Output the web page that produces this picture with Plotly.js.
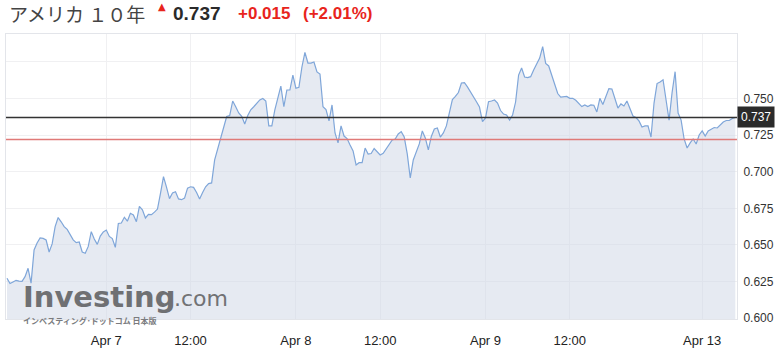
<!DOCTYPE html>
<html>
<head>
<meta charset="utf-8">
<script src="https://cdn.plot.ly/plotly-3.0.1.min.js"></script>
<style>html,body{margin:0;padding:0;background:#fff;}#chart{width:783px;height:353px;}</style>
</head>
<body>
<div id="chart"></div>
<script>
// Yield series (index-based trading time)
const yields = [
0.6273,0.6237,0.6248,0.6259,0.6253,0.6252,0.6284,0.6341,0.6240,0.6466,
0.6514,0.6548,0.6545,0.6534,0.6452,0.6507,0.6625,0.6687,0.6658,0.6625,
0.6606,0.6575,0.6535,0.6516,0.6520,0.6452,0.6443,0.6490,0.6591,0.6541,
0.6504,0.6561,0.6589,0.6602,0.6558,0.6544,0.6484,0.6647,0.6650,0.6689,
0.6662,0.6716,0.6705,0.6659,0.6763,0.6740,0.6684,0.6708,0.6707,0.6724,
0.6745,0.6852,0.6966,0.6895,0.6816,0.6854,0.6863,0.6814,0.6809,0.6820,
0.6888,0.6897,0.6893,0.6858,0.6814,0.6858,0.6897,0.6919,0.6923,0.7080,
0.7155,0.7217,0.7298,0.7376,0.7383,0.7482,0.7443,0.7400,0.7378,0.7325,
0.7383,0.7422,0.7443,0.7468,0.7489,0.7499,0.7482,0.7312,0.7312,0.7421,
0.7509,0.7584,0.7443,0.7557,0.7557,0.7659,0.7569,0.7575,0.7714,0.7813,
0.7741,0.7741,0.7748,0.7680,0.7666,0.7443,0.7424,0.7346,0.7455,0.7264,
0.7196,0.7312,0.7243,0.7226,0.7182,0.7141,0.7046,0.7061,0.7061,0.7161,
0.7120,0.7124,0.7158,0.7134,0.7114,0.7125,0.7155,0.7189,0.7216,0.7223,
0.7257,0.7273,0.7236,0.7121,0.6957,0.7080,0.7136,0.7189,0.7278,0.7230,
0.7148,0.7240,0.7291,0.7298,0.7236,0.7264,0.7312,0.7407,0.7492,0.7513,
0.7540,0.7605,0.7607,0.7578,0.7547,0.7513,0.7477,0.7441,0.7341,0.7366,
0.7477,0.7482,0.7489,0.7468,0.7417,0.7393,0.7387,0.7352,0.7387,0.7475,
0.7659,0.7707,0.7646,0.7641,0.7648,0.7693,0.7739,0.7775,0.7853,0.7738,
0.7721,0.7659,0.7581,0.7533,0.7509,0.7509,0.7513,0.7500,0.7500,0.7487,
0.7468,0.7444,0.7455,0.7444,0.7455,0.7453,0.7407,0.7500,0.7458,0.7509,
0.7567,0.7564,0.7496,0.7434,0.7462,0.7448,0.7482,0.7429,0.7380,0.7369,
0.7346,0.7305,0.7312,0.7312,0.7236,0.7468,0.7601,0.7612,0.7627,0.7489,
0.7352,0.7540,0.7682,0.7400,0.7352,0.7223,0.7161,0.7196,0.7223,0.7189,
0.7250,0.7278,0.7243,0.7278,0.7289,0.7301,0.7298,0.7318,0.7339,0.7349,
0.7349,0.7363,0.7370
];
// x tick positions (sample index) and labels
const xTickPos = [33, 61, 96, 124, 159, 187, 231];
const xTickText = ["Apr 7", "12:00", "Apr 8", "12:00", "Apr 9", "12:00", "Apr 13"];
// y ticks
const yTickVals = [0.600, 0.625, 0.650, 0.675, 0.700, 0.725, 0.750, 0.775];
const yTickText = ["0.600", "0.625", "0.650", "0.675", "0.700", "0.725", "0.750", ""];
// header
const titleText = "アメリカ １０年";
const lastValue = 0.737;
const changeText = "+0.015";
const changePctText = "(+2.01%)";
const prevClose = 0.722;

const FONT = "Liberation Sans, Arial, sans-serif";
const RED = "#e8241c";

const trace = {
  y: yields,
  type: "scatter",
  mode: "lines",
  line: {color: "#7fa6d9", width: 1.2},
  fill: "tozeroy",
  fillcolor: "rgba(205,214,230,0.5)",
  hoverinfo: "skip"
};

const layout = {
  width: 783, height: 353,
  margin: {l: 6, r: 46, t: 34, b: 34, pad: 0},
  paper_bgcolor: "#ffffff",
  plot_bgcolor: "#ffffff",
  showlegend: false,
  font: {family: FONT, size: 12, color: "#333"},
  xaxis: {
    range: [-0.33, yields.length - 1 + 0.57],
    tickmode: "array", tickvals: xTickPos, ticktext: xTickText,
    ticks: "", ticklabelstandoff: 9,
    tickfont: {family: FONT, size: 13, color: "#222"},
    showgrid: true, gridcolor: "#f0f0f2", gridwidth: 1,
    zeroline: false,
    showline: true, mirror: true, linecolor: "#e3e5ea", linewidth: 1,
    fixedrange: true
  },
  yaxis: {
    side: "right",
    range: [0.5995, 0.7939],
    tickmode: "array", tickvals: yTickVals, ticktext: yTickText,
    ticks: "", ticklabelstandoff: 3,
    tickfont: {family: FONT, size: 12, color: "#333"},
    showgrid: true, gridcolor: "#f0f0f2", gridwidth: 1,
    zeroline: false,
    showline: true, mirror: true, linecolor: "#e3e5ea", linewidth: 1,
    fixedrange: true
  },
  shapes: [
    {type: "line", xref: "paper", x0: 0, x1: 1, yref: "y", y0: prevClose, y1: prevClose,
     line: {color: "#e07a78", width: 1.5}},
    {type: "line", xref: "paper", x0: 0, x1: 1, yref: "y", y0: lastValue, y1: lastValue,
     line: {color: "#333333", width: 1.5}}
  ],
  annotations: [
    {xref: "paper", yref: "y", x: 1, y: lastValue, xanchor: "left", yanchor: "middle",
     text: lastValue.toFixed(3), showarrow: false, bgcolor: "#2b2b2b", borderpad: 3,
     font: {family: FONT, size: 12, color: "#ffffff"}},
    {xref: "paper", yref: "paper", x: 0.001, y: 1.072, xanchor: "left", yanchor: "middle",
     text: titleText, showarrow: false,
     font: {family: "Noto Sans CJK JP, sans-serif", size: 19, color: "#444"}},
    {xref: "paper", yref: "paper", x: 0.213, y: 1.096, xanchor: "center", yanchor: "middle",
     text: "▲", showarrow: false,
     font: {family: "DejaVu Sans, sans-serif", size: 10, color: RED}},
    {xref: "paper", yref: "paper", x: 0.226, y: 1.072, xanchor: "left", yanchor: "middle",
     text: "<b>" + lastValue.toFixed(3) + "</b>", showarrow: false,
     font: {family: FONT, size: 19, color: "#2a2a2a"}},
    {xref: "paper", yref: "paper", x: 0.315, y: 1.072, xanchor: "left", yanchor: "middle",
     text: "<b>" + changeText + "</b>", showarrow: false,
     font: {family: FONT, size: 17, color: RED}},
    {xref: "paper", yref: "paper", x: 0.404, y: 1.072, xanchor: "left", yanchor: "middle",
     text: "<b>" + changePctText + "</b>", showarrow: false,
     font: {family: FONT, size: 17, color: RED}},
    // watermark
    {xref: "paper", yref: "paper", x: 0.020, y: 0.078, xanchor: "left", yanchor: "middle",
     text: "<b>Investing</b>", showarrow: false,
     font: {family: "DejaVu Sans, sans-serif", size: 29, color: "#6f7073"}},
    {xref: "paper", yref: "paper", x: 0.227, y: 0.072, xanchor: "left", yanchor: "middle",
     text: ".com", showarrow: false,
     font: {family: "DejaVu Sans, sans-serif", size: 22, color: "#717275"}},
    {xref: "paper", yref: "paper", x: 0.021, y: -0.006, xanchor: "left", yanchor: "middle",
     text: "<b>インベスティング･ドットコム 日本版</b>", showarrow: false,
     font: {family: "Noto Sans CJK JP, sans-serif", size: 8, color: "#7a7b7e"}}
  ]
};

Plotly.newPlot("chart", [trace], layout, {displayModeBar: false, staticPlot: true});
</script>
</body>
</html>
